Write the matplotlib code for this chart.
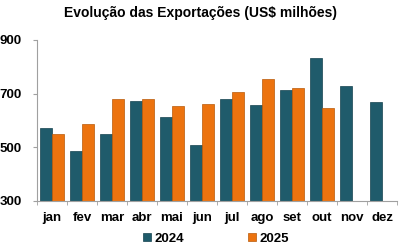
import matplotlib.pyplot as plt
import numpy as np

months = ["jan", "fev", "mar", "abr", "mai", "jun", "jul", "ago", "set", "out", "nov", "dez"]
exp_2024 = [571, 486, 551, 671, 613, 510, 679, 657, 714, 832, 727, 668]
exp_2025 = [551, 587, 678, 678, 654, 660, 705, 753, 720, 648, np.nan, np.nan]

c2024 = "#1f5b6b"
c2025 = "#ec730f"

plt.rcParams['font.family'] = ['Liberation Sans', 'DejaVu Sans']
plt.rcParams['font.weight'] = 'bold'

fig = plt.figure(figsize=(4, 2.49), dpi=100)
ax = fig.add_axes([0.0925, 0.193, 0.9, 0.647])

x = np.arange(len(months))
w = 0.4
ax.bar(x - w / 2, exp_2024, w, color=c2024, edgecolor="#15434f", linewidth=0.5, label="2024")
ax.bar(x + w / 2, exp_2025, w, color=c2025, edgecolor="#b85a0a", linewidth=0.5, label="2025")

ax.set_xlim(-0.5, 11.5)
ax.set_ylim(300, 900)
ax.set_yticks([300, 500, 700, 900])
ax.set_xticks(x)
ax.set_xticklabels(months, fontsize=9.5, fontweight='bold')
ax.set_xticks(np.arange(-0.5, 12, 1), minor=True)
ax.tick_params(axis='x', which='major', length=0, pad=8)
ax.tick_params(axis='x', which='minor', length=3, color="#a0a0a0")
ax.tick_params(axis='y', length=3, color="#a0a0a0", labelsize=9.5, pad=8)
for lbl in ax.get_yticklabels():
    lbl.set_fontweight('bold')

for s in ["top", "right"]:
    ax.spines[s].set_visible(False)
ax.spines["left"].set_color("#a0a0a0")
ax.spines["bottom"].set_color("#a0a0a0")

fig.suptitle("Evolução das Exportações (US$ milhões)", fontsize=10, fontweight='bold', y=0.975)

fig.legend(loc="lower center", bbox_to_anchor=(0.54, -0.03), ncol=2, frameon=False,
           handlelength=0.6, handleheight=0.6, handletextpad=0.3,
           columnspacing=4.8, prop={'weight': 'bold', 'size': 9.5})

fig.savefig("out.png", dpi=100)
